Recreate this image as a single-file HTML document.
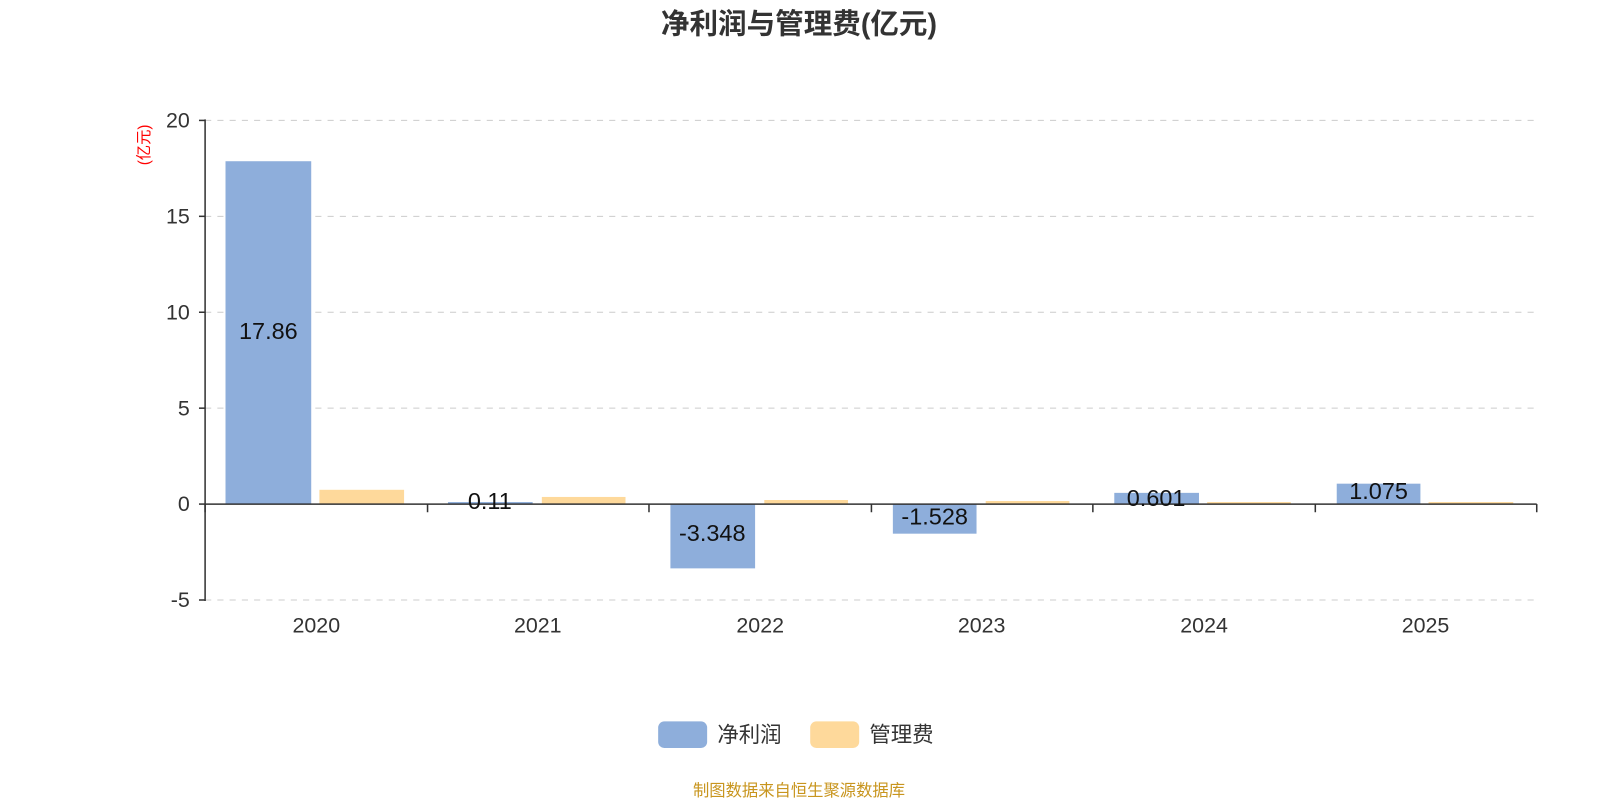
<!DOCTYPE html>
<html><head><meta charset="utf-8"><style>
body{margin:0;background:#fff;}
svg{display:block;}
svg text{font-family:"Liberation Sans","Noto Sans CJK SC",sans-serif;}
</style></head><body>
<svg width="1600" height="800" viewBox="0 0 1568 784" xmlns="http://www.w3.org/2000/svg">
<rect width="1568" height="784" fill="#fff"/>
<text x="783" y="33" text-anchor="middle" font-size="28" font-weight="bold" fill="#333">净利润与管理费(亿元)</text>
<g stroke="#ccc" stroke-dasharray="6,6" stroke-width="1">
<line x1="201" y1="118" x2="1506" y2="118"/>
<line x1="201" y1="212" x2="1506" y2="212"/>
<line x1="201" y1="306" x2="1506" y2="306"/>
<line x1="201" y1="400" x2="1506" y2="400"/>
<line x1="201" y1="588" x2="1506" y2="588"/>
</g>
<g fill="#8eaedb">
<rect x="221" y="158" width="84" height="336"/>
<rect x="439" y="492" width="83" height="2"/>
<rect x="657" y="494" width="83" height="63"/>
<rect x="875" y="494" width="82" height="29"/>
<rect x="1092" y="483" width="83" height="11"/>
<rect x="1310" y="474" width="82" height="20"/>
</g>
<g fill="#fed99b">
<rect x="313" y="480" width="83" height="14"/>
<rect x="531" y="487" width="82" height="7"/>
<rect x="749" y="490" width="82" height="4"/>
<rect x="966" y="491" width="82" height="3"/>
<rect x="1183" y="492" width="82" height="2"/>
<rect x="1400" y="492" width="83" height="2"/>
</g>
<g stroke="#333" stroke-width="1.5">
<line x1="201" y1="117" x2="201" y2="589"/>
<line x1="195" y1="118" x2="201" y2="118"/>
<line x1="195" y1="212" x2="201" y2="212"/>
<line x1="195" y1="306" x2="201" y2="306"/>
<line x1="195" y1="400" x2="201" y2="400"/>
<line x1="195" y1="494" x2="201" y2="494"/>
<line x1="195" y1="588" x2="201" y2="588"/>
<line x1="201" y1="494" x2="1506" y2="494"/>
<line x1="201" y1="494" x2="201" y2="502"/>
<line x1="419" y1="494" x2="419" y2="502"/>
<line x1="636" y1="494" x2="636" y2="502"/>
<line x1="854" y1="494" x2="854" y2="502"/>
<line x1="1071" y1="494" x2="1071" y2="502"/>
<line x1="1289" y1="494" x2="1289" y2="502"/>
<line x1="1506" y1="494" x2="1506" y2="502"/>
</g>
<g font-size="21" fill="#333" text-anchor="end">
<text x="186" y="125">20</text>
<text x="186" y="219">15</text>
<text x="186" y="313">10</text>
<text x="186" y="407">5</text>
<text x="186" y="501">0</text>
<text x="186" y="595">-5</text>
</g>
<text transform="translate(146,142) rotate(-90)" text-anchor="middle" font-size="15" fill="#f00">(亿元)</text>
<g font-size="21" fill="#333" text-anchor="middle">
<text x="310" y="620">2020</text>
<text x="527" y="620">2021</text>
<text x="745" y="620">2022</text>
<text x="962" y="620">2023</text>
<text x="1180" y="620">2024</text>
<text x="1397" y="620">2025</text>
</g>
<g font-size="23" fill="#111" text-anchor="middle">
<text x="263" y="332">17.86</text>
<text x="480" y="499">0.11</text>
<text x="698" y="530">-3.348</text>
<text x="916" y="514">-1.528</text>
<text x="1133" y="496">0.601</text>
<text x="1351" y="489">1.075</text>
</g>
<rect x="645" y="707" width="48" height="26" rx="6" fill="#8eaedb"/>
<text x="703" y="727" font-size="21" fill="#333">净利润</text>
<rect x="794" y="707" width="48" height="26" rx="6" fill="#fed99b"/>
<text x="852" y="727" font-size="21" fill="#333">管理费</text>
<text x="783" y="780" text-anchor="middle" font-size="16" fill="#c8951e">制图数据来自恒生聚源数据库</text>
</svg>
</body></html>
